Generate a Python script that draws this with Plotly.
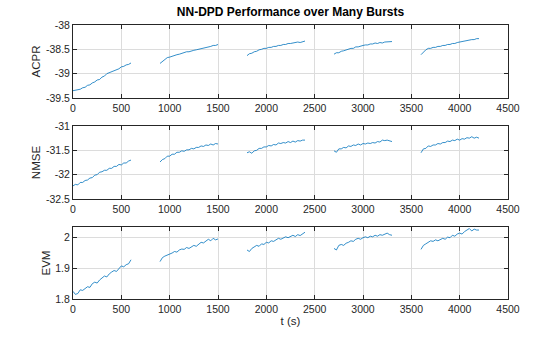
import plotly.graph_objects as go

burst_starts = [0, 900, 1800, 2700, 3600]
offsets = [0, 25, 50, 75, 100, 125, 150, 175, 200, 225, 250, 275, 300,
           325, 350, 375, 400, 425, 450, 475, 500, 525, 550, 575, 600]

acpr = [
    [-39.35, -39.34, -39.32, -39.32, -39.29, -39.28, -39.24, -39.23, -39.19, -39.17, -39.13, -39.12, -39.07,
     -39.05, -39.00, -38.98, -38.95, -38.94, -38.91, -38.90, -38.86, -38.85, -38.82, -38.81, -38.78],
    [-38.79, -38.75, -38.72, -38.67, -38.66, -38.64, -38.63, -38.61, -38.60, -38.58, -38.57, -38.55, -38.55,
     -38.53, -38.52, -38.51, -38.50, -38.48, -38.48, -38.46, -38.45, -38.44, -38.42, -38.42, -38.40],
    [-38.63, -38.59, -38.58, -38.55, -38.54, -38.51, -38.50, -38.48, -38.48, -38.46, -38.46, -38.44, -38.44,
     -38.42, -38.42, -38.40, -38.40, -38.38, -38.38, -38.37, -38.37, -38.35, -38.36, -38.34, -38.33],
    [-38.60, -38.57, -38.57, -38.54, -38.53, -38.51, -38.50, -38.48, -38.48, -38.45, -38.45, -38.43, -38.42,
     -38.41, -38.41, -38.39, -38.39, -38.37, -38.38, -38.36, -38.37, -38.35, -38.35, -38.35, -38.34],
    [-38.61, -38.55, -38.51, -38.48, -38.48, -38.46, -38.46, -38.44, -38.44, -38.42, -38.42, -38.40, -38.40,
     -38.38, -38.38, -38.36, -38.35, -38.33, -38.33, -38.31, -38.31, -38.30, -38.30, -38.28, -38.28],
]

nmse = [
    [-32.23, -32.20, -32.21, -32.16, -32.16, -32.12, -32.11, -32.07, -32.06, -32.01, -32.00, -31.95, -31.94,
     -31.91, -31.91, -31.87, -31.87, -31.83, -31.83, -31.79, -31.80, -31.76, -31.76, -31.72, -31.70],
    [-31.74, -31.69, -31.67, -31.62, -31.62, -31.58, -31.58, -31.54, -31.54, -31.51, -31.52, -31.49, -31.49,
     -31.46, -31.47, -31.44, -31.44, -31.41, -31.42, -31.39, -31.40, -31.37, -31.39, -31.36, -31.37],
    [-31.55, -31.53, -31.56, -31.51, -31.50, -31.46, -31.46, -31.43, -31.43, -31.40, -31.41, -31.38, -31.39,
     -31.35, -31.36, -31.34, -31.35, -31.32, -31.34, -31.31, -31.33, -31.30, -31.31, -31.29, -31.29],
    [-31.51, -31.54, -31.47, -31.47, -31.44, -31.45, -31.41, -31.42, -31.39, -31.40, -31.37, -31.39, -31.36,
     -31.37, -31.35, -31.36, -31.34, -31.35, -31.32, -31.33, -31.29, -31.30, -31.29, -31.31, -31.32],
    [-31.55, -31.47, -31.46, -31.41, -31.42, -31.39, -31.39, -31.36, -31.37, -31.34, -31.34, -31.31, -31.32,
     -31.29, -31.30, -31.27, -31.29, -31.26, -31.27, -31.24, -31.25, -31.22, -31.25, -31.23, -31.25],
]

evm = [
    [1.825, 1.815, 1.818, 1.830, 1.828, 1.835, 1.840, 1.838, 1.850, 1.855, 1.852, 1.862, 1.870,
     1.875, 1.872, 1.882, 1.888, 1.893, 1.890, 1.900, 1.908, 1.905, 1.912, 1.915, 1.928],
    [1.922, 1.935, 1.940, 1.943, 1.948, 1.950, 1.955, 1.953, 1.960, 1.963, 1.962, 1.968, 1.965,
     1.970, 1.975, 1.972, 1.980, 1.985, 1.983, 1.990, 1.995, 1.990, 1.998, 1.993, 1.996],
    [1.960, 1.955, 1.965, 1.970, 1.975, 1.972, 1.980, 1.978, 1.985, 1.983, 1.990, 1.988, 1.993,
     1.998, 1.995, 2.000, 2.003, 2.000, 2.005, 2.008, 2.004, 2.010, 2.007, 2.012, 2.018],
    [1.965, 1.960, 1.975, 1.978, 1.975, 1.982, 1.985, 1.990, 1.988, 1.995, 1.998, 1.995, 2.000,
     2.003, 2.000, 2.005, 2.003, 2.008, 2.005, 2.010, 2.008, 2.012, 2.015, 2.010, 2.008],
    [1.962, 1.975, 1.980, 1.985, 1.990, 1.988, 1.993, 1.990, 1.995, 1.998, 1.995, 2.002, 2.000,
     2.008, 2.005, 2.012, 2.015, 2.012, 2.020, 2.025, 2.030, 2.022, 2.028, 2.025, 2.025],
]

x_ticks = [0, 500, 1000, 1500, 2000, 2500, 3000, 3500, 4000, 4500]
acpr_ticks = [-39.5, -39, -38.5, -38]
nmse_ticks = [-32.5, -32, -31.5, -31]
evm_ticks = [1.8, 1.9, 2.0]

LINE = "#0072BD"
FONT = "Liberation Sans, Arial, sans-serif"
AX = "#262626"

def series(vals):
    xs, ys = [], []
    for s, v in zip(burst_starts, vals):
        xs += [s + o for o in offsets] + [None]
        ys += list(v) + [None]
    return xs, ys

fig = go.Figure()
for i, data in enumerate([acpr, nmse, evm]):
    xs, ys = series(data)
    suffix = "" if i == 0 else str(i + 1)
    fig.add_trace(go.Scatter(x=xs, y=ys, mode="lines", line=dict(color=LINE, width=0.8),
                             xaxis="x" + suffix, yaxis="y" + suffix, connectgaps=False,
                             showlegend=False, hoverinfo="skip"))

H = 274.0
def dom(top, bot):
    return [(299 - bot) / H, (299 - top) / H]

TICKF = dict(family=FONT, size=10.5, color=AX)
LABF = dict(family=FONT, size=11.5, color=AX)

common_x = dict(range=[0, 4500], tickvals=x_ticks, ticktext=[str(v) for v in x_ticks],
                showline=True, linecolor=AX, linewidth=1, mirror="ticks",
                ticks="inside", ticklen=4, tickcolor=AX,
                showgrid=True, gridcolor="#dcdcdc", gridwidth=1, zeroline=False,
                tickfont=TICKF)
common_y = dict(showline=True, linecolor=AX, linewidth=1, mirror="ticks",
                ticks="inside", ticklen=4, tickcolor=AX,
                showgrid=True, gridcolor="#dcdcdc", gridwidth=1, zeroline=False,
                tickfont=TICKF)

fig.update_layout(
    width=560, height=337,
    margin=dict(l=73, r=52, t=25, b=38),
    paper_bgcolor="white", plot_bgcolor="white",
    font=dict(family=FONT, color=AX),
    title=dict(text="<b>NN-DPD Performance over Many Bursts</b>", x=(73 + 508) / 2 / 560, xanchor="center",
               y=1 - 12 / 337, yanchor="middle", font=dict(family=FONT, size=12, color="black")),
    xaxis=dict(common_x, anchor="y"),
    xaxis2=dict(common_x, anchor="y2"),
    xaxis3=dict(common_x, anchor="y3",
                title=dict(text="t (s)", font=LABF, standoff=3)),
    yaxis=dict(common_y, domain=dom(25, 98), range=[-39.5, -38], tickvals=acpr_ticks,
               ticktext=["-39.5", "-39", "-38.5", "-38"], anchor="x",
               title=dict(text="ACPR", font=LABF, standoff=2)),
    yaxis2=dict(common_y, domain=dom(126, 199), range=[-32.5, -31], tickvals=nmse_ticks,
                ticktext=["-32.5", "-32", "-31.5", "-31"], anchor="x2",
                title=dict(text="NMSE", font=LABF, standoff=2)),
    yaxis3=dict(common_y, domain=dom(227, 299), range=[1.8, 2.035], tickvals=evm_ticks,
                ticktext=["1.8", "1.9", "2"], anchor="x3",
                title=dict(text="EVM", font=LABF, standoff=2)),
)

fig.write_html("out.html")
